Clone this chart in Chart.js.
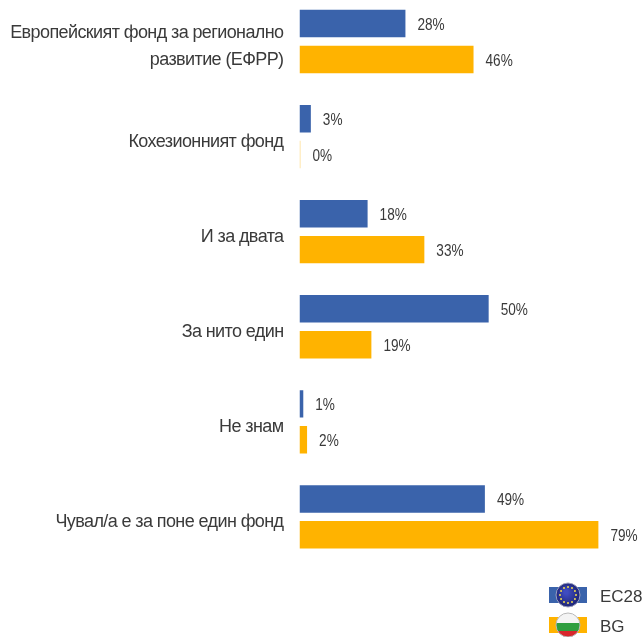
<!DOCTYPE html>
<html>
<head>
<meta charset="utf-8">
<style>
html, body { margin: 0; padding: 0; background: #fff; overflow: hidden; }
#wrap { position: relative; width: 642px; height: 637px; overflow: hidden; }
#myChart { position: absolute; left: 0; top: -6px; }
</style>
</head>
<body>
<div id="wrap"><canvas id="myChart" width="642" height="643"></canvas></div>
<script src="https://cdn.jsdelivr.net/npm/chart.js@4"></script>
<script>
const categories = [
    ['Европейският фонд за регионално', 'развитие (ЕФРР)'],
    'Кохезионният фонд',
    'И за двата',
    'За нито един',
    'Не знам',
    'Чувал/а е за поне един фонд'
];
const seriesNames = ['EC28', 'BG'];
const ec28 = [28, 3, 18, 50, 1, 49];
const bg = [46, 0, 33, 19, 2, 79];

const BLUE = '#3A63AB';
const ORANGE = '#FFB300';
const TEXT = '#3a3a3a';

// the original labels are tall and narrow, tighten the axis text
const tightTicks = {
    id: 'tightTicks',
    beforeDraw(chart) { chart.ctx.letterSpacing = '-0.6px'; },
    afterDatasetsDraw(chart) { chart.ctx.letterSpacing = '0px'; }
};

// value labels next to the bar ends, squeezed a bit like the original
const valueLabels = {
    id: 'valueLabels',
    afterDatasetsDraw(chart) {
        const c = chart.ctx;
        c.font = '16px "Liberation Sans", sans-serif';
        c.fillStyle = TEXT;
        c.textBaseline = 'middle';
        chart.data.datasets.forEach((ds, i) => {
            chart.getDatasetMeta(i).data.forEach((bar, j) => {
                c.save();
                c.translate(bar.x + 12, bar.y + 2);
                c.scale(0.85, 1);
                c.fillText(ds.data[j] + '%', 0, 0);
                c.restore();
            });
        });
    }
};

function drawEuFlag(c, y) {
    c.fillStyle = BLUE;
    c.fillRect(549, y - 8, 38, 16);
    const g = c.createRadialGradient(566, y - 3, 2, 568, y, 13);
    g.addColorStop(0, '#3f4cc0');
    g.addColorStop(1, '#1b2170');
    c.fillStyle = g;
    c.beginPath();
    c.arc(568, y, 12, 0, Math.PI * 2);
    c.fill();
    c.strokeStyle = '#9a9fc0';
    c.lineWidth = 1;
    c.stroke();
    c.fillStyle = '#f0dc50';
    for (let i = 0; i < 12; ++i) {
        const a = i * Math.PI / 6;
        c.beginPath();
        c.arc(568 + Math.cos(a) * 8, y + Math.sin(a) * 8, 1, 0, Math.PI * 2);
        c.fill();
    }
}

function drawBgFlag(c, y) {
    c.fillStyle = ORANGE;
    c.fillRect(549, y - 8, 38, 16);
    c.save();
    c.beginPath();
    c.arc(568, y, 12, 0, Math.PI * 2);
    c.clip();
    c.fillStyle = '#f4f4f4';
    c.fillRect(556, y - 12, 24, 10);
    c.fillStyle = '#2f9e3f';
    c.fillRect(556, y - 2, 24, 8);
    c.fillStyle = '#d8262c';
    c.fillRect(556, y + 6, 24, 7);
    c.restore();
    c.strokeStyle = '#b9b9b9';
    c.lineWidth = 1;
    c.beginPath();
    c.arc(568, y, 12, 0, Math.PI * 2);
    c.stroke();
}

// legend with the round flags, canvas sits 6px above the page
const flagLegend = {
    id: 'flagLegend',
    afterDraw(chart) {
        const c = chart.ctx;
        c.save();
        drawEuFlag(c, 601);
        drawBgFlag(c, 631);
        c.font = '17px "Liberation Sans", sans-serif';
        c.fillStyle = TEXT;
        c.textBaseline = 'middle';
        c.fillText(seriesNames[0], 600, 603);
        c.fillText(seriesNames[1], 600, 633);
        c.restore();
    }
};

new Chart(document.getElementById('myChart'), {
    type: 'bar',
    plugins: [tightTicks, valueLabels, flagLegend],
    data: {
        labels: categories,
        datasets: [
            { label: seriesNames[0], data: ec28, backgroundColor: BLUE },
            {
                label: seriesNames[1],
                data: bg,
                backgroundColor: ctx => ctx.raw === 0 ? '#FFDD90' : ORANGE
            }
        ]
    },
    options: {
        indexAxis: 'y',
        responsive: false,
        animation: false,
        minBarLength: 1,
        categoryPercentage: 0.755,
        barPercentage: 0.765,
        layout: { padding: { top: 0, right: 2, bottom: 72.6, left: 0 } },
        plugins: { legend: { display: false }, tooltip: { enabled: false } },
        scales: {
            x: { display: false, min: 0, max: 90 },
            y: {
                afterFit: axis => {
                    axis.width = 299.5;
                    axis.paddingTop = 0;
                    axis.paddingBottom = 0;
                },
                grid: { display: false, drawTicks: false },
                border: { display: false },
                ticks: {
                    color: TEXT,
                    padding: 16,
                    labelOffset: 5,
                    font: { family: '"Liberation Sans", sans-serif', size: 18, lineHeight: 1.45 }
                }
            }
        }
    }
});
</script>
</body>
</html>
